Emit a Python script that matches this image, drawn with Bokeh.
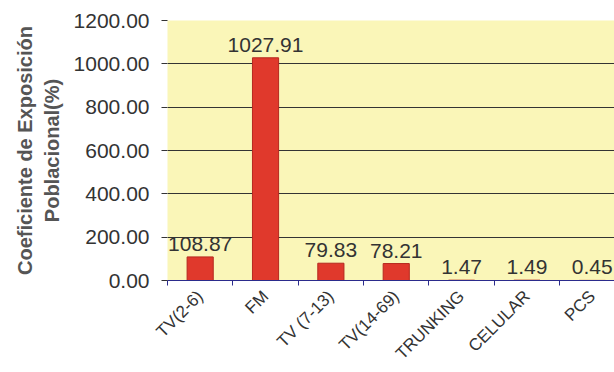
import math
from bokeh.plotting import figure
from bokeh.models import ColumnDataSource, Range1d, FixedTicker, LinearAxis, NumeralTickFormatter
from bokeh.core.properties import value
from bokeh.embed import file_html
from bokeh.resources import INLINE

categories = ["TV(2-6)", "FM", "TV (7-13)", "TV(14-69)", "TRUNKING", "CELULAR", "PCS"]
values = [108.87, 1027.91, 79.83, 78.21, 1.47, 1.49, 0.45]
value_labels = ["108.87", "1027.91", "79.83", "78.21", "1.47", "1.49", "0.45"]
y_ticks = [0, 200, 400, 600, 800, 1000, 1200]

centers = [i + 0.5 for i in range(len(categories))]
boundaries = list(range(len(categories) + 1))
src = ColumnDataSource(dict(x=centers, top=values, lab=value_labels, cat=categories))

p = figure(width=614, height=372, output_backend="svg", toolbar_location=None,
           x_range=Range1d(0, 6.84), y_range=Range1d(0, 1200),
           x_axis_location=None, y_axis_location=None)
p.min_border_left = 167
p.min_border_right = 0
p.min_border_top = 20
p.min_border_bottom = 92
p.outline_line_color = None
p.border_fill_color = "white"
p.background_fill_color = "#FAF6B8"

p.vbar(x="x", top="top", width=0.4, bottom=0, source=src,
       fill_color="#E0392C", line_color="#B5281F", line_width=1)

p.text(x="x", y="top", text="lab", source=src, text_align="center",
       text_baseline="bottom", y_offset=-6, text_font_size="21px",
       text_color="#333333", text_font=value("Liberation Sans"))

# y axis
yax = LinearAxis(ticker=FixedTicker(ticks=y_ticks))
yax.formatter = NumeralTickFormatter(format="0.00")
yax.axis_line_color = None
yax.major_tick_line_color = "#333333"
yax.major_tick_in = 0
yax.major_tick_out = 6
yax.minor_tick_line_color = None
yax.major_label_text_font = "Liberation Sans"
yax.major_label_text_font_size = "21px"
yax.major_label_text_color = "#333333"
yax.major_label_standoff = 12
yax.axis_label = "Coeficiente de Exposición\nPoblacional(%)"
yax.axis_label_text_font = "Liberation Sans"
yax.axis_label_text_font_style = "bold"
yax.axis_label_text_font_size = "20px"
yax.axis_label_text_color = "#555555"
yax.axis_label_standoff = 8
p.add_layout(yax, "left")

# x axis: labels at category centres, tick marks (minor) at category boundaries
xax = LinearAxis(ticker=FixedTicker(ticks=centers, minor_ticks=boundaries))
xax.major_label_overrides = {c: n for c, n in zip(centers, categories)}
xax.axis_line_color = "#2B2B8C"
xax.major_tick_line_color = None
xax.minor_tick_line_color = "#2B2B8C"
xax.minor_tick_in = 0
xax.minor_tick_out = 5
xax.major_tick_in = 0
xax.major_tick_out = 0
xax.major_label_orientation = math.pi / 4
xax.major_label_text_font = "Liberation Sans"
xax.major_label_text_font_size = "17px"
xax.major_label_text_color = "#333333"
xax.major_label_standoff = 8
p.add_layout(xax, "below")

p.xgrid.visible = False
p.ygrid.ticker = FixedTicker(ticks=y_ticks)
p.ygrid.grid_line_color = "#333333"
p.ygrid.grid_line_width = 1

open("out.html", "w").write(file_html(p, INLINE))
